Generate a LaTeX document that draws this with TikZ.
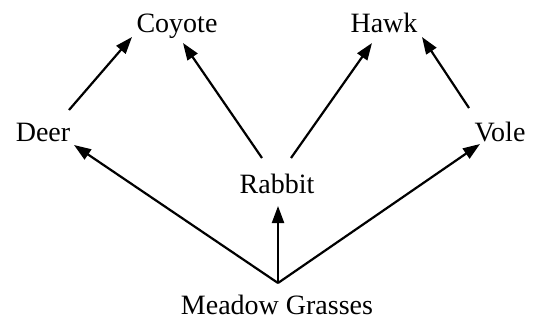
\documentclass[tikz,border=0pt]{standalone}
\usepackage{fontspec}
\setmainfont{Liberation Serif}
\usepackage{tikz}
\usetikzlibrary{arrows.meta,positioning}
\tikzset{
  organism/.style={inner sep=0pt, anchor=base, font=\fontsize{28}{30}\selectfont},
  eats/.style={-{Triangle[length=17pt,width=12pt]}, line width=2.2pt, black}
}

\begin{document}
\begin{tikzpicture}[x=1pt,y=-1pt]
  \useasboundingbox (0,0) rectangle (537,324);
  % Organisms
  \node[organism] (coyote) at (177,32) {Coyote};
  \node[organism] (hawk) at (384,32) {Hawk};
  \node[organism] (deer) at (43,141) {Deer};
  \node[organism] (vole) at (500,141) {Vole};
  \node[organism] (rabbit) at (277,193) {Rabbit};
  \node[organism] (grass) at (277,314) {Meadow Grasses};

  % Arrow end points
  \coordinate (gtop) at (278,283);
  \coordinate (deerup) at (69,110);
  \coordinate (deerin) at (74,145);
  \coordinate (voleup) at (469,108);
  \coordinate (volein) at (480,144);
  \coordinate (rabbitl) at (262,158);
  \coordinate (rabbitr) at (291,158);
  \coordinate (rabbitin) at (278,206);
  \coordinate (coyotel) at (132,37);
  \coordinate (coyoter) at (183,43);
  \coordinate (hawkl) at (372,43);
  \coordinate (hawkr) at (422,37);

  % Who eats whom
  \draw[eats] (gtop) -- (deerin);
  \draw[eats] (gtop) -- (rabbitin);
  \draw[eats] (gtop) -- (volein);
  \draw[eats] (deerup) -- (coyotel);
  \draw[eats] (rabbitl) -- (coyoter);
  \draw[eats] (rabbitr) -- (hawkl);
  \draw[eats] (voleup) -- (hawkr);
\end{tikzpicture}
\end{document}
